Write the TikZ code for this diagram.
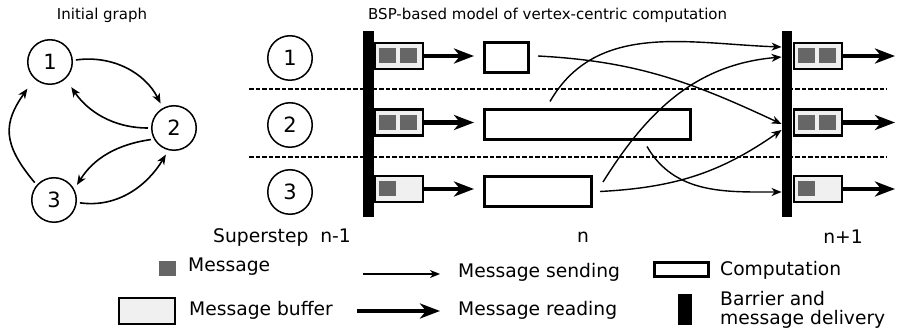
\documentclass[tikz,border=0pt]{standalone}
\usepackage{fontspec}
\setmainfont{DejaVu Sans}
\usetikzlibrary{arrows.meta}

\definecolor{msggray}{HTML}{666666}
\definecolor{buffill}{HTML}{F0F0F0}

\begin{document}
\begin{tikzpicture}[x=1pt,y=-1pt,
  vertex/.style={circle,draw,line width=1.5pt,minimum size=44.5pt,inner sep=0pt,font=\fontsize{21}{21}\selectfont},
  buffer/.style={rectangle,draw,line width=2.2pt,fill=buffill,minimum width=48pt,minimum height=26pt,inner sep=0pt},
  message/.style={rectangle,fill=msggray,minimum width=17pt,minimum height=15pt,inner sep=0pt},
  compute/.style={rectangle,draw,line width=3pt,minimum height=30pt,inner sep=0pt},
  barrier/.style={rectangle,fill=black,minimum width=10.5pt,minimum height=186pt,inner sep=0pt},
  sendarrow/.style={line width=1.4pt,-{Stealth[length=10pt,width=8pt,inset=3pt]}},
  readarrow/.style={line width=4.5pt,-{Stealth[length=20pt,width=15pt,inset=6pt]}},
  graphedge/.style={line width=1.6pt,-{Stealth[length=10pt,width=8pt,inset=3pt]},shorten <=3pt,shorten >=5pt},
  sepline/.style={line width=1.3pt,dash pattern=on 4.5pt off 2pt},
  legtext/.style={font=\fontsize{18.7}{19}\selectfont,inner sep=0pt},
  heading/.style={font=\fontsize{15}{15}\selectfont,inner sep=0pt}]

  \useasboundingbox (0,0) rectangle (899,336);

  % Titles
  \node [heading] (t-graph) at (102,15) {Initial graph};
  \node [heading,anchor=west] (t-bsp) at (368,15) {BSP-based model of vertex-centric computation};

  % Initial graph
  \node [vertex] (g-1) at (50,62) {1};
  \node [vertex] (g-2) at (174,128) {2};
  \node [vertex] (g-3) at (54,200) {3};

  \draw [graphedge] (g-1.4) to[out=8,in=117] (g-2.119);
  \draw [graphedge,shorten >=10pt] (g-2.180) to[out=180,in=-56] (g-1.-47);
  \draw [graphedge] (g-2.209) to[out=188,in=58] (g-3.28);
  \draw [graphedge] (g-3.-6) to[out=-8,in=239] (g-2.-104);
  \draw [graphedge,shorten >=12pt,looseness=1.3] (g-3.139) to[out=130,in=235] (g-1.227);

  % Rows of vertices
  \draw [sepline] (249,89) -- (887,89);
  \draw [sepline] (249,157) -- (887,157);

  \node [vertex] (v-1) at (290,58) {1};
  \node [vertex] (v-2) at (290,125) {2};
  \node [vertex] (v-3) at (290,192) {3};

  % Barriers
  \node [barrier] (bar-l) at (368.5,124) {};
  \node [barrier] (bar-r) at (787,124) {};

  % Message buffers, superstep n-1
  \node [buffer] (lb-1) at (399,56) {};
  \node [buffer] (lb-2) at (399,122.5) {};
  \node [buffer] (lb-3) at (399,189) {};
  \node [message] (lm-1a) at (387,56) {};
  \node [message] (lm-1b) at (408,56) {};
  \node [message] (lm-2a) at (387,122.5) {};
  \node [message] (lm-2b) at (408,122.5) {};
  \node [message] (lm-3a) at (387,189) {};

  % Computation, superstep n
  \node [compute,minimum width=44pt] (comp-1) at (506.5,57.5) {};
  \node [compute,minimum width=206pt] (comp-2) at (587.5,125) {};
  \node [compute,minimum width=107pt] (comp-3) at (538,191.5) {};

  \draw [readarrow,shorten >=9pt] (lb-1.east) -- (lb-1.east -| comp-1.west);
  \draw [readarrow,shorten >=9pt] (lb-2.east) -- (lb-2.east -| comp-2.west);
  \draw [readarrow,shorten >=9pt] (lb-3.east) -- (lb-3.east -| comp-3.west);

  % Message sending
  \draw [sendarrow] ([xshift=8pt,yshift=1.5pt]comp-1.east) to[out=-3,in=155] (bar-r.west);
  \draw [sendarrow] ([xshift=-37.5pt,yshift=7pt]comp-2.north) to[out=60,in=178] ([yshift=77pt]bar-r.west);
  \draw [sendarrow] ([xshift=10pt,yshift=-7pt]comp-3.north east) to[out=58,in=185] ([yshift=67pt]bar-r.west);
  \draw [sendarrow] ([xshift=7pt]comp-3.east) to[out=3,in=215] ([yshift=-6pt]bar-r.west);
  \draw [sendarrow] ([xshift=59.5pt,yshift=-5pt]comp-2.south) to[out=-60,in=180] ([yshift=-68pt]bar-r.west);

  % Message buffers, superstep n+1
  \node [buffer] (rb-1) at (818,56) {};
  \node [buffer] (rb-2) at (818,122.5) {};
  \node [buffer] (rb-3) at (818,189) {};
  \node [message] (rm-1a) at (806,56) {};
  \node [message] (rm-1b) at (827,56) {};
  \node [message] (rm-2a) at (806,122.5) {};
  \node [message] (rm-2b) at (827,122.5) {};
  \node [message] (rm-3a) at (806,189) {};

  \coordinate (out-1) at (895,56);
  \coordinate (out-2) at (895,122.5);
  \coordinate (out-3) at (895,189);
  \draw [readarrow] (rb-1.east) -- (out-1);
  \draw [readarrow] (rb-2.east) -- (out-2);
  \draw [readarrow] (rb-3.east) -- (out-3);

  % Supersteps
  \node [legtext,anchor=west] (s-prev) at (213,238) {Superstep~~n-1};
  \node [legtext] (s-cur) at (583,237) {n};
  \node [legtext] (s-next) at (843,237) {n+1};

  % Legend
  \node [message] (leg-msg) at (167.5,269) {};
  \node [legtext,anchor=west] (leg-msg-txt) at (188,267) {Message};
  \node [buffer,minimum width=56pt] (leg-buf) at (147,311) {};
  \node [legtext,anchor=west] (leg-buf-txt) at (189,310) {Message buffer};

  \coordinate (leg-send-a) at (363,274);
  \coordinate (leg-send-b) at (440,274);
  \coordinate (leg-read-a) at (357,311);
  \coordinate (leg-read-b) at (440,311);
  \draw [sendarrow] (leg-send-a) -- (leg-send-b);
  \draw [readarrow] (leg-read-a) -- (leg-read-b);
  \node [legtext,anchor=west] (leg-send-txt) at (458,272) {Message sending};
  \node [legtext,anchor=west] (leg-read-txt) at (458,310) {Message reading};

  \node [compute,minimum width=54pt,minimum height=14pt] (leg-comp) at (681.5,269.5) {};
  \node [legtext,anchor=west] (leg-comp-txt) at (720,270) {Computation};
  \node [barrier,minimum width=14pt,minimum height=31pt] (leg-bar) at (685,309.5) {};
  \node [legtext,anchor=west,align=left] (leg-bar-txt) at (720,310) {Barrier and\\message delivery};
\end{tikzpicture}
\end{document}
